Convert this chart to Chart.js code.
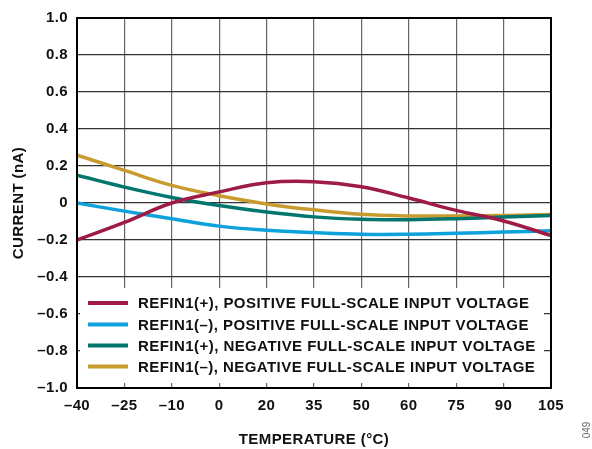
<!DOCTYPE html>
<html><head><meta charset="utf-8">
<script src="https://cdn.jsdelivr.net/npm/chart.js@4/dist/chart.umd.min.js"></script>
<style>html,body{margin:0;padding:0;background:#fff}#wrap{width:592px;height:449px;position:relative}</style>
</head><body><div id="wrap"><canvas id="c" width="592" height="449"></canvas></div>
<script>
const xTickLabels = ['–40','–25','–10','0','20','35','50','60','75','90','105'];
const seriesNames = [
  'REFIN1(+), POSITIVE FULL-SCALE INPUT VOLTAGE',
  'REFIN1(–), POSITIVE FULL-SCALE INPUT VOLTAGE',
  'REFIN1(+), NEGATIVE FULL-SCALE INPUT VOLTAGE',
  'REFIN1(–), NEGATIVE FULL-SCALE INPUT VOLTAGE'
];
const refinPlusPos  = [-0.20, -0.105, 0.0, 0.06, 0.109, 0.115, 0.088, 0.027, -0.04, -0.097, -0.176];
const refinMinusPos = [0.0, -0.044, -0.085, -0.125, -0.147, -0.16, -0.169, -0.169, -0.164, -0.157, -0.15];
const refinPlusNeg  = [0.15, 0.086, 0.03, -0.014, -0.049, -0.075, -0.088, -0.09, -0.085, -0.076, -0.067];
const refinMinusNeg = [0.259, 0.176, 0.095, 0.039, -0.005, -0.037, -0.061, -0.07, -0.07, -0.067, -0.062];
const colors = ['#9E1B45', '#0DA2DC', '#00766E', '#C89B2F'];

const FONT = '"Liberation Sans", Arial, sans-serif';
const toPts = arr => arr.map((v, i) => ({x: i, y: v}));
const allSeries = [refinPlusPos, refinMinusPos, refinPlusNeg, refinMinusNeg];

const legendPlugin = {
  id: 'insideLegend',
  beforeDraw(chart) { chart.ctx.letterSpacing = '0.4px'; },
  afterDraw(chart) {
    const ctx = chart.ctx;
    const ca = chart.chartArea;
    ctx.save();
    ctx.fillStyle = '#fff';
    ctx.fillRect(ca.left + 3, 288, ca.right - ca.left - 10, 95);
    const rowY = [303, 324.5, 345.5, 366.5];
    ctx.font = 'bold 15px ' + FONT;
    ctx.letterSpacing = '0.45px';
    ctx.textBaseline = 'middle';
    chart.data.datasets.forEach((ds, i) => {
      ctx.strokeStyle = ds.borderColor;
      ctx.lineWidth = 4;
      ctx.beginPath();
      ctx.moveTo(88, rowY[i]);
      ctx.lineTo(128, rowY[i]);
      ctx.stroke();
      ctx.fillStyle = '#111';
      ctx.fillText(ds.label, 138, rowY[i] + 1);
    });
    ctx.translate(587, 430);
    ctx.rotate(-Math.PI / 2);
    ctx.letterSpacing = '0px';
    ctx.font = '10px ' + FONT;
    ctx.fillStyle = '#666';
    ctx.textAlign = 'center';
    ctx.fillText('049', 0, 0);
    ctx.restore();
  }
};

new Chart(document.getElementById('c'), {
  type: 'line',
  data: {
    datasets: allSeries.map((s, i) => ({
      label: seriesNames[i],
      data: toPts(s),
      borderColor: colors[i],
      backgroundColor: colors[i],
      borderWidth: 3.5,
      pointRadius: 0,
      tension: 0.4,
      fill: false
    }))
  },
  options: {
    responsive: false,
    animation: false,
    layout: {padding: {top: 10, right: 41, left: 0, bottom: 0}},
    plugins: {legend: {display: false}, tooltip: {enabled: false}},
    scales: {
      x: {
        type: 'linear', min: 0, max: 10,
        border: {color: '#000', width: 2},
        grid: {color: '#666', lineWidth: 1.2, drawTicks: false},
        ticks: {stepSize: 1, padding: 9, color: '#111', font: {family: FONT, size: 15, weight: 'bold'},
          callback: v => xTickLabels[v], maxRotation: 0, autoSkip: false},
        title: {display: true, text: 'TEMPERATURE (°C)', color: '#111', font: {family: FONT, size: 15, weight: 'bold'}, padding: {top: 12, bottom: 0}},
        afterFit: s => { s.height = 61; }
      },
      y: {
        min: -1, max: 1,
        border: {color: '#000', width: 2},
        grid: {color: '#333', lineWidth: 1.2, drawTicks: false},
        ticks: {stepSize: 0.2, padding: 9, color: '#111', font: {family: FONT, size: 15, weight: 'bold'},
          callback: v => { const r = Math.round(v * 10) / 10; return r === 0 ? '0' : (r < 0 ? '–' : '') + Math.abs(r).toFixed(1); }},
        title: {display: true, text: 'CURRENT (nA)', color: '#111', font: {family: FONT, size: 15, weight: 'bold'}, padding: {top: 10, bottom: 4}},
        afterFit: s => { s.width = 77; }
      }
    }
  },
  plugins: [legendPlugin, {
    id: 'frame',
    afterDatasetsDraw(chart) {
      const {ctx, chartArea: ca} = chart;
      ctx.save();
      ctx.strokeStyle = '#000';
      ctx.lineWidth = 2;
      ctx.strokeRect(ca.left, ca.top, ca.right - ca.left, ca.bottom - ca.top);
      ctx.restore();
    }
  }]
});
</script></body></html>
